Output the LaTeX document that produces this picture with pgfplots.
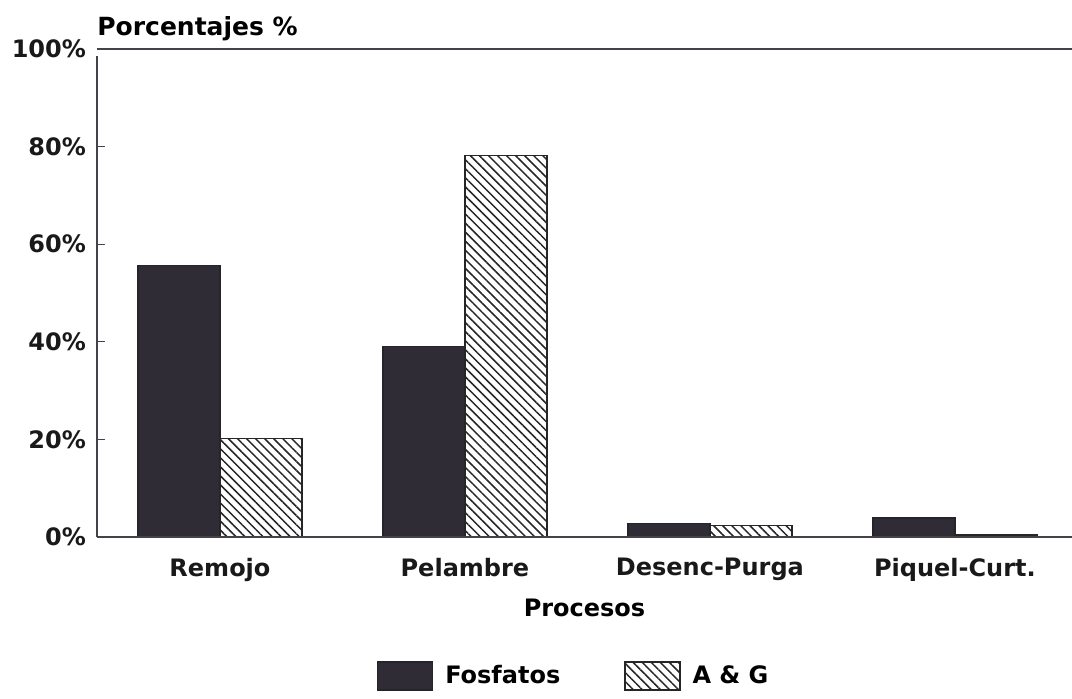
\documentclass[border=0pt]{standalone}
\usepackage{fontspec}
\setmainfont{DejaVu Sans}
\usepackage{pgfplots}
\pgfplotsset{compat=1.18}
\usetikzlibrary{patterns.meta}

\definecolor{fosf}{RGB}{48,44,54}
\definecolor{axgray}{RGB}{70,66,74}

\pgfplotstableread{
x fosfatos ayg
0 55.7 20.2
1 39.1 78.2
2 2.7 2.4
3 3.9 0.4
}\procesos

\tikzset{agfill/.style={pattern={Lines[angle=-45,distance=3.2pt,line width=0.75pt]},pattern color=black!85}}

\begin{document}
\begin{tikzpicture}
\useasboundingbox (-48.5pt,-81pt) rectangle (487.5pt,268.5pt);
\begin{axis}[
  at={(0pt,0pt)}, anchor=south west,
  scale only axis, width=487.5pt, height=244pt,
  ybar=0pt, bar width=41pt,
  xmin=-0.502, xmax=3.478,
  ymin=0, ymax=100,
  ytick={0,20,40,60,80,100},
  yticklabel={\pgfmathprintnumber{\tick}\%},
  xtick=data,
  xticklabels={Remojo,Pelambre,Desenc-Purga,Piquel-Curt.},
  x tick style={draw=none},
  y tick style={axgray,line width=0.6pt},
  major tick length=4pt,
  tick align=inside,
  ytick pos=left,
  axis line style={draw=none},
  /pgf/number format/assume math mode=true,
  ticklabel style={font=\fontsize{12}{14}\selectfont\bfseries, text=black!90},
  yticklabel style={xshift=-2pt},
  xticklabel style={yshift=-7pt},
  xlabel={Procesos},
  xlabel style={font=\fontsize{12}{14}\selectfont\bfseries, yshift=-2pt},
  legend columns=2,
  legend style={draw=none, at={(0.49,-0.285)}, anchor=center,
    font=\fontsize{12}{14}\selectfont\bfseries,
    /tikz/every odd column/.append style={column sep=4pt},
    /tikz/every even column/.append style={column sep=30pt}},
  legend image code/.code={\draw[#1] (0pt,-7pt) rectangle (27.5pt,7pt);},
  clip=false,
]
\addplot[fill=fosf, draw=fosf!80!black, line width=0.6pt] table[x=x,y=fosfatos]{\procesos};
\addplot[agfill, draw=black!85, line width=0.6pt] table[x=x,y=ayg]{\procesos};
\legend{Fosfatos, A \& G}
% frame: left, top and base lines
\draw[axgray, line width=1pt] (rel axis cs:0,1) -- (rel axis cs:1,1);
\draw[axgray, line width=1pt] (rel axis cs:0,0) -- (rel axis cs:0,0.985);
\draw[axgray, line width=1pt] (rel axis cs:0,0) -- (rel axis cs:1,0);
\node[anchor=south west, font=\fontsize{12.5}{14}\selectfont\bfseries, inner sep=0pt]
  at ([yshift=4pt]rel axis cs:0,1) {Porcentajes \%};
\end{axis}
\end{tikzpicture}
\end{document}
